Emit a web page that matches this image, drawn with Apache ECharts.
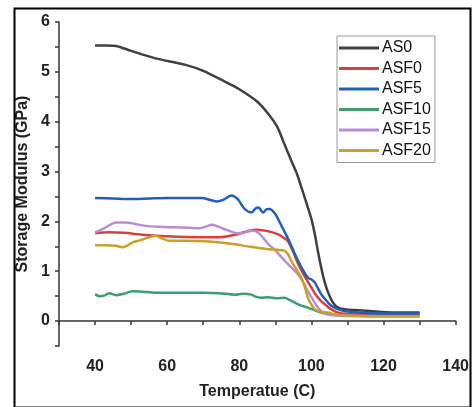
<!DOCTYPE html>
<html><head><meta charset="utf-8">
<script src="https://cdn.jsdelivr.net/npm/echarts@6/dist/echarts.min.js"></script>
<style>html,body{margin:0;padding:0;background:#fff}#c{width:472px;height:407px}</style>
</head><body><div id="c"></div>
<script>
const seriesNames = ['AS0','ASF0','ASF5','ASF10','ASF15','ASF20'];
const colors = ['#404040','#d9403b','#2060b8','#3a9e70','#b98bd8','#c8a02a'];
const xTicks = [40,60,80,100,120,140];
const yTicks = [0,1,2,3,4,5,6];

const AS0 = [[40,5.53],[43,5.53],[45.8,5.52],[50,5.42],[56.8,5.27],[65.1,5.14],[70,5.02],[76.1,4.80],[80,4.65],[85,4.40],[88,4.16],[90.5,3.90],[92.5,3.55],[94.4,3.22],[96,2.95],[97.5,2.62],[99,2.28],[100,2.05],[101,1.72],[101.8,1.40],[102.7,1.08],[103.6,0.80],[104.7,0.56],[105.9,0.38],[107,0.29],[108.2,0.25],[112,0.22],[118,0.19],[125,0.17],[130,0.17]];
const ASF0 = [[40,1.76],[43.9,1.78],[48,1.77],[52,1.74],[56.8,1.71],[63,1.69],[70.6,1.68],[74.3,1.68],[78.8,1.73],[81.5,1.79],[84.3,1.83],[87.5,1.81],[90.8,1.74],[92.5,1.66],[93.5,1.60],[95,1.38],[96,1.20],[97.2,1.02],[98.5,0.85],[100,0.67],[101.3,0.52],[102.7,0.40],[104,0.32],[105,0.26],[107,0.18],[110,0.14],[118,0.12],[130,0.12]];
const ASF5 = [[40,2.47],[45,2.46],[50,2.45],[55,2.46],[60,2.47],[65,2.47],[69.6,2.47],[72,2.43],[73.8,2.40],[75.5,2.43],[77.8,2.52],[79.5,2.45],[81.6,2.24],[83.4,2.18],[84.5,2.26],[85.3,2.28],[86.6,2.18],[87.5,2.24],[88.5,2.25],[89.5,2.19],[90.3,2.11],[91.7,1.91],[93,1.73],[94,1.58],[95.2,1.38],[96.3,1.21],[97.6,1.03],[99,0.87],[100.1,0.83],[100.9,0.78],[101.8,0.66],[102.7,0.54],[103.8,0.44],[105,0.34],[106.2,0.28],[107.3,0.24],[110,0.19],[115,0.16],[122,0.15],[130,0.15]];
const ASF10 = [[40,0.54],[41.2,0.50],[42.5,0.51],[43.9,0.56],[45.8,0.52],[48,0.55],[50.4,0.60],[53,0.59],[56.8,0.57],[63,0.57],[70.6,0.57],[74.3,0.56],[78.8,0.53],[81,0.55],[83.4,0.53],[84.5,0.49],[86.1,0.47],[88,0.48],[90.3,0.46],[92.6,0.47],[94,0.42],[95.4,0.37],[97.2,0.31],[99,0.27],[100.5,0.23],[101.8,0.19],[104,0.15],[107,0.12],[112,0.11],[120,0.11],[130,0.11]];
const ASF15 = [[40,1.78],[42.5,1.86],[45.8,1.98],[48.5,1.98],[51,1.95],[54,1.91],[58,1.89],[62.3,1.88],[66,1.87],[68.7,1.86],[70.5,1.89],[72.4,1.93],[74.3,1.89],[76.1,1.84],[78.8,1.77],[80.5,1.76],[82,1.79],[83.9,1.81],[85.5,1.76],[88.1,1.54],[90,1.42],[92.6,1.21],[94.5,1.07],[96.3,0.94],[97.8,0.77],[99,0.60],[100.4,0.43],[101.8,0.27],[103,0.18],[104.5,0.13],[107,0.11],[112,0.10],[120,0.10],[130,0.10]];
const ASF20 = [[40,1.52],[43,1.52],[45.8,1.51],[47.6,1.48],[49,1.52],[50.4,1.58],[52.5,1.62],[55,1.68],[56.8,1.71],[58.5,1.66],[60.5,1.61],[65,1.61],[70.6,1.60],[74.3,1.58],[78.8,1.54],[83,1.49],[88.1,1.44],[90.5,1.43],[92.6,1.41],[93.6,1.33],[94.4,1.21],[95.8,1.04],[97.2,0.87],[98.2,0.68],[99,0.47],[100,0.33],[100.9,0.24],[102.5,0.19],[104.5,0.17],[107,0.13],[112,0.10],[120,0.09],[130,0.09]];

const data = [AS0, ASF0, ASF5, ASF10, ASF15, ASF20];
const zOrder = [3,4,7,2,5,6];

const chart = echarts.init(document.getElementById('c'), null, {renderer:'canvas'});
const axisFont = {fontFamily:'Liberation Sans, Arial, sans-serif', fontWeight:'bold', fontSize:16, color:'#222'};
chart.setOption({
  animation:false,
  backgroundColor:'#fff',
  grid:{left:59, right:13, top:22, bottom:61, containLabel:false},
  xAxis:{
    type:'value', min:30, max:140, interval:10,
    name:'Temperatue (C)', nameLocation:'middle', nameGap:38,
    nameTextStyle:Object.assign({}, axisFont, {fontSize:16}),
    axisLine:{show:true, lineStyle:{color:'#333', width:1.5}},
    axisTick:{show:true, length:4, inside:false, lineStyle:{color:'#333', width:1.5}},
    axisLabel:Object.assign({}, axisFont, {margin:13, formatter:v => xTicks.includes(v) ? String(v) : ''}),
    splitLine:{show:false}
  },
  yAxis:{
    type:'value', min:-0.5, max:6, interval:0.5,
    name:'Storage Modulus (GPa)', nameLocation:'middle', nameGap:27,
    nameTextStyle:Object.assign({}, axisFont, {fontSize:16}),
    axisLine:{show:true, lineStyle:{color:'#333', width:1.5}},
    axisTick:{show:true, length:4, inside:false, lineStyle:{color:'#333', width:1.5}},
    axisLabel:Object.assign({}, axisFont, {margin:9, formatter:v => yTicks.includes(v) ? String(v) : ''}),
    splitLine:{show:false}
  },
  legend:{
    show:true, orient:'vertical', left:337, top:36,
    data:seriesNames,
    itemWidth:40, itemHeight:3, itemGap:4.5,
    icon:'rect',
    borderColor:'#999', borderWidth:1, padding:[4,4,4,2],
    textStyle:{fontFamily:'Liberation Sans, Arial, sans-serif', fontSize:16, color:'#111', padding:[0,0,0,-2], lineHeight:16}
  },
  graphic:[{type:'rect', left:12, top:6, shape:{width:456, height:399}, style:{fill:'none', stroke:'#000', lineWidth:2}, z:100}],
  series: seriesNames.map((n,i)=>({
    name:n, type:'line', data:data[i], showSymbol:false, symbol:'none', smooth:0.3,
    z:zOrder[i],
    lineStyle:{color:colors[i], width:2.5}, itemStyle:{color:colors[i]}
  }))
});
</script></body></html>
